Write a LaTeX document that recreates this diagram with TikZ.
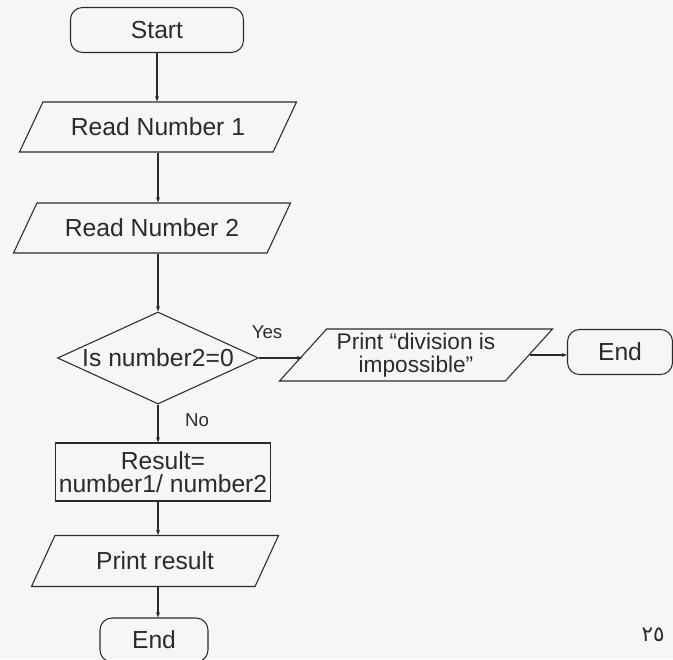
\documentclass[tikz,border=0pt]{standalone}
\usepackage{fontspec}
\setmainfont{Liberation Sans}
\newfontfamily\arabicfont[Script=Arabic]{DejaVu Sans}
\usepackage{tikz}
\usetikzlibrary{shapes.geometric,arrows.meta}
\definecolor{ink}{HTML}{2B2B2B}
\definecolor{paper}{HTML}{F5F6F8}
\tikzset{base/.style={draw=ink,line width=0.8pt,text=ink,font=\fontsize{18.5}{16}\selectfont,align=center,inner sep=2pt},
termbox/.style={base,rectangle,rounded corners=9pt},
iobox/.style={base,trapezium,trapezium left angle=45,trapezium right angle=135,trapezium stretches body,minimum height=37.5pt},
procbox/.style={base,rectangle},
decbox/.style={base,diamond,aspect=2.2,inner sep=0pt},
arr/.style={draw=ink,line width=0.8pt,-{Stealth[length=4pt,width=3pt]}},
lbl/.style={text=ink,font=\fontsize{14}{16}\selectfont,inner sep=1pt}}

\begin{document}
\begin{tikzpicture}[x=0.75pt,y=-0.75pt]
\fill[paper] (0,0) rectangle (673,659);
\useasboundingbox (0,0) rectangle (673,659);
\node[termbox,minimum width=129.75pt,minimum height=33.75pt] (start) at (157,30) {Start};
\node[iobox,minimum width=207.75pt] (read1) at (158,127) {Read Number 1};
\node[iobox,minimum width=207.75pt] (read2) at (152,228) {Read Number 2};
\node[decbox,minimum width=150.75pt,minimum height=69pt] (chk) at (158,358) {Is number2=0};
\node[iobox,minimum width=204.75pt,minimum height=39pt,inner sep=1pt,font=\fontsize{17}{17.5}\selectfont] (prdiv) at (416,355) {Print “division is\\impossible”};
\node[termbox,minimum width=78.75pt,minimum height=33.75pt] (endr) at (620,352) {End};
\node[procbox,minimum width=161.25pt,minimum height=43.5pt,font=\fontsize{18.5}{17}\selectfont] (res) at (163,472) {Result=\\number1/ number2};
\node[iobox,minimum width=185.25pt,minimum height=38.25pt] (prres) at (155,561) {Print result};
\node[termbox,minimum width=81pt,minimum height=33pt] (endb) at (154,640) {End};
\node[lbl] (yes) at (267,332) {Yes};
\node[lbl] (no) at (197,420) {No};
\node[text=ink,font=\arabicfont\fontsize{16}{18}\selectfont] (pg) at (653,635) {٢٥};
\draw[arr] (start.south) -- (start.south |- read1.north);
\draw[arr] (read1.south) -- (read1.south |- read2.north);
\draw[arr] (read2.south -| chk.north) -- (chk.north);
\draw[arr] (chk.east) -- (chk.east -| prdiv.west);
\draw[arr] (prdiv.east) -- (prdiv.east -| endr.west);
\draw[arr] (chk.south) -- (chk.south |- res.north);
\draw[arr] (res.south -| chk.south) -- (chk.south |- prres.north);
\draw[arr] (prres.south -| chk.south) -- (chk.south |- endb.north);
\end{tikzpicture}
\end{document}
